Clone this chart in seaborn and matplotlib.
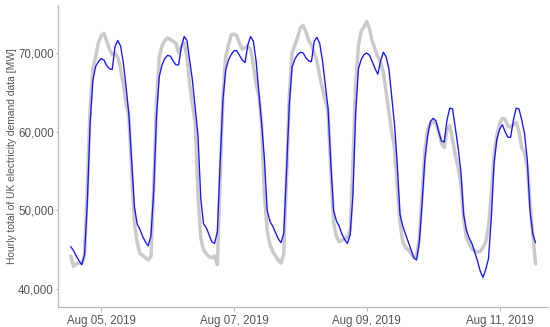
import pandas as pd
import matplotlib.pyplot as plt
import matplotlib.dates as mdates
import matplotlib.ticker as mticker
import seaborn as sns

start_time = '2019-08-04 13:00'

# hourly actual demand (grey) and forecast (blue), MW
actual = [
    44200, 42900, 43200, 43300, 43300, 44300, 53000, 63000, 68000, 69500, 71300, 72200,
    72500, 71500, 70500, 69800, 69900, 69500, 68000, 66000, 63500, 62000, 55000, 48500,
    46000, 44500, 44300, 44000, 43700, 44200, 53000, 63500, 69500, 70900, 71600, 71900,
    71700, 71500, 71200, 70000, 70800, 71300, 69500, 66000, 63500, 61000, 52000, 46500,
    45000, 44500, 44100, 44000, 44200, 43100, 54000, 64500, 69500, 71000, 72300, 72400,
    72200, 71200, 70500, 70700, 70900, 70500, 68500, 66000, 64500, 61000, 52000, 47500,
    45600, 44800, 44200, 43700, 43300, 44500, 54000, 64500, 70000, 71000, 72000, 73200,
    73500, 72700, 71600, 71000, 70000, 69000, 67000, 65500, 64000, 62500, 55000, 48500,
    46700, 46000, 46200, 46400, 46600, 47500, 56000, 66000, 71000, 72800, 73300, 74000,
    73000, 71500, 70500, 69500, 68800, 67500, 65000, 62500, 60000, 58000, 53000, 48500,
    46000, 45300, 45000, 44500, 44000, 44200, 46500, 52000, 57500, 60300, 61000, 61300,
    61000, 60000, 58500, 58000, 60300, 60800, 59000, 57000, 55500, 53500, 49000, 46500,
    45800, 45100, 44900, 44700, 44800, 45300, 46000, 48000, 52000, 57000, 59500, 61000,
    61700, 61600, 60700, 60600, 60900, 61200, 60000, 58000, 57300, 55500, 51000, 47000,
    43200,
]
forecast = [
    45400, 44900, 44200, 43600, 43100, 44400, 51000, 61000, 66500, 68300, 68900, 69300,
    69100, 68400, 68000, 67900, 70800, 71600, 70900, 68800, 65700, 62300, 56500, 50500,
    48300, 47600, 46700, 46000, 45500, 46800, 52500, 62000, 67000, 68500, 69300, 69700,
    69600, 69000, 68500, 68500, 70800, 72100, 71600, 69000, 66500, 63000, 59500, 51500,
    48300, 47800, 46900, 46000, 45800, 47300, 56000, 64000, 67800, 69100, 69800, 70300,
    70300, 69700, 69100, 68800, 71000, 72100, 71500, 69000, 65000, 61000, 56500, 50000,
    48600, 48000, 47200, 46400, 45900, 47100, 55000, 63500, 68200, 69200, 69800, 70100,
    70000, 69400, 69000, 68900, 71500, 72000, 71200, 69000, 66000, 63000, 56000, 50000,
    48700, 48000, 47000, 46300, 45800, 46900, 52000, 62500, 68000, 69200, 69800, 70000,
    69700, 68900, 68000, 67300, 69000, 70100, 69500, 68000, 64500, 61000, 56000, 49500,
    48000, 47000, 46000, 45000, 44000, 43700, 46000, 51000, 56500, 59500, 61300, 61700,
    61400, 60000, 58800, 58700, 61500, 63000, 62900, 60500, 58000, 55000, 49500, 47500,
    46500, 45800, 44700, 43600, 42300, 41500, 42500, 43900, 49000, 56000, 59000, 60300,
    60900, 60000, 59300, 59300, 61500, 63000, 62900, 61500, 59800, 56500, 50000, 47000,
    45900,
]
tick_dates = ['2019-08-05', '2019-08-07', '2019-08-09', '2019-08-11']
y_ticks = [40000, 50000, 60000, 70000]

times = pd.date_range(start_time, periods=len(actual), freq='h')
df = pd.DataFrame({'time': times, 'actual': actual, 'forecast': forecast})

sns.set_style('ticks')
plt.rcParams['font.family'] = ['Liberation Sans', 'DejaVu Sans']

fig, ax = plt.subplots(figsize=(5.5, 3.27), dpi=100)
fig.subplots_adjust(left=58/550, right=548/550, top=1-5/327, bottom=1-307/327)

sns.lineplot(data=df, x='time', y='actual', color='#cacaca', linewidth=2.5, ax=ax)
sns.lineplot(data=df, x='time', y='forecast', color='#1414ff', linewidth=0.95, ax=ax)

ax.set_xlim(times[0] - pd.Timedelta(hours=4.6), times[0] + pd.Timedelta(hours=172.5))
ax.set_ylim(37730, 76100)
ax.set_xticks(pd.to_datetime(tick_dates))
ax.xaxis.set_major_formatter(mdates.DateFormatter('%b %d, %Y'))
ax.set_yticks(y_ticks)
ax.yaxis.set_major_formatter(mticker.StrMethodFormatter('{x:,.0f}'))

ax.set_xlabel('')
ax.set_ylabel('Hourly total of UK electricity demand data [MW]', fontsize=7.4, color='#555555', labelpad=1)
ax.tick_params(axis='x', labelsize=8.3, labelcolor='#555555', color='#bbbbbb', length=3, width=0.8, pad=3)
ax.tick_params(axis='y', labelsize=8.3, labelcolor='#555555', color='#bbbbbb', length=1.5, width=0.8, pad=1.5)
sns.despine(ax=ax)
for side in ['left', 'bottom']:
    ax.spines[side].set_color('#bbbbbb')
    ax.spines[side].set_linewidth(0.9)

plt.savefig('out.png', dpi=100)
